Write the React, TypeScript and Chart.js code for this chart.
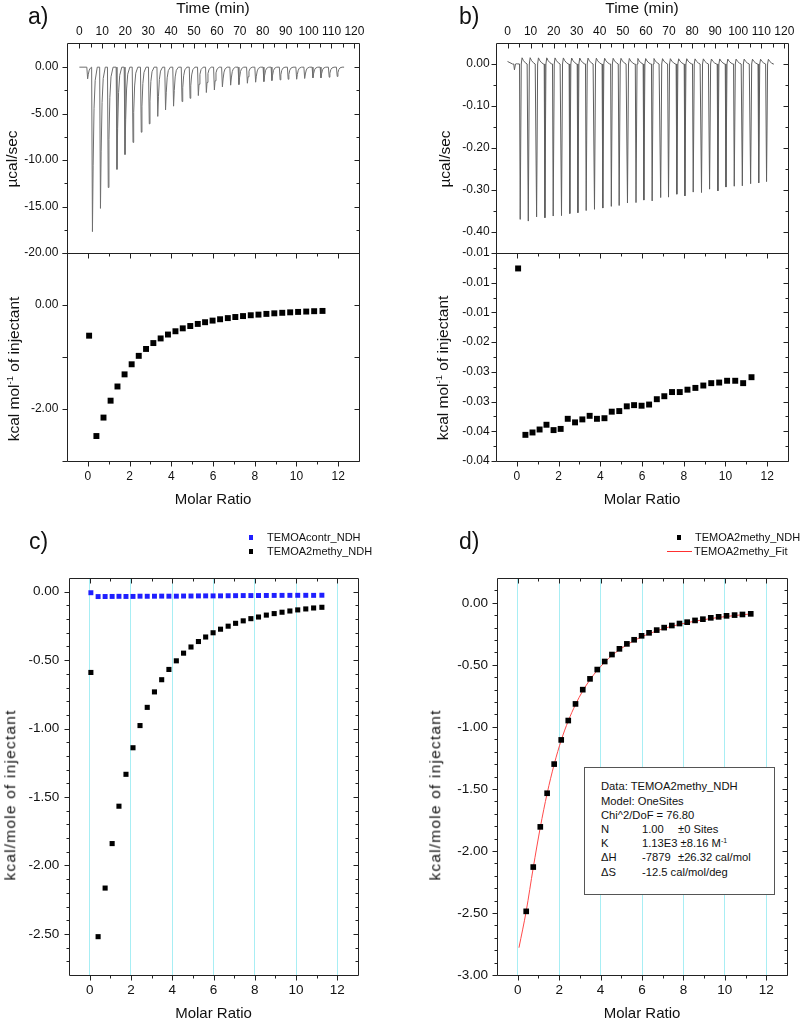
import React, { useEffect, useRef } from 'react';
import { Chart, registerables } from 'chart.js';

Chart.register(...registerables);

const FONT = "'Liberation Sans', Arial, Helvetica, sans-serif";
const INK = '#111';

// ---------------- data ----------------
// Raw thermogram, panel a (TEMOA2methy into NDH): injection peak times (min) and peak minima (µcal/sec)
const A_INJ_TIME = [3.6, 5.7, 9.2, 12.6, 16.4, 19.9, 23.4, 27.0, 30.5, 34.2, 37.6, 41.1, 44.8, 48.3, 51.9, 55.4, 58.9, 62.4, 66.0, 69.6, 73.3, 76.9, 80.5, 84.0, 87.6, 91.1, 94.8, 98.3, 101.9, 105.4, 109.0, 112.5];
const A_PEAK = [-1.26, -17.7, -15.2, -12.95, -11.0, -9.4, -8.1, -7.0, -6.1, -5.3, -4.6, -4.2, -3.7, -3.35, -3.06, -2.73, -2.45, -2.12, -1.94, -1.87, -1.73, -1.62, -1.55, -1.44, -1.37, -1.3, -1.3, -1.22, -1.15, -1.15, -1.08, -1.0];
const A_TRACE_END = 115.5;
// Raw thermogram, panel b (control)
const B_INJ_TIME = [3.0, 5.5, 9.0, 12.6, 16.2, 19.8, 23.4, 27.0, 30.5, 34.1, 37.7, 41.3, 45.0, 48.4, 52.0, 55.7, 59.1, 62.7, 66.4, 69.8, 73.4, 76.9, 80.5, 84.1, 87.6, 91.2, 94.7, 98.3, 101.8, 105.4, 108.9, 112.3];
const B_PEAK = [-0.014, -0.37, -0.374, -0.364, -0.366, -0.362, -0.361, -0.356, -0.354, -0.349, -0.346, -0.343, -0.339, -0.337, -0.331, -0.33, -0.324, -0.326, -0.318, -0.317, -0.31, -0.314, -0.305, -0.306, -0.298, -0.302, -0.293, -0.291, -0.29, -0.285, -0.283, -0.28];
const B_TRACE_START = [[0, 0.006], [2.2, 0]];
const B_TRACE_END = 115;
// spike profile: [minutes after peak, fraction of peak depth]
const A_SPIKE_SHAPE = [[-0.35, 0], [0, 1], [0.3, 0.6], [0.7, 0.25], [1.2, 0.08], [2.1, 0]];
const B_SPIKE_SHAPE = [[-0.3, 0], [0, 1], [0.45, 0], [0.8, -0.04], [1.4, -0.022], [2.2, -0.008], [3.0, 0]];

// Integrated heats
const MOLAR_RATIO = [0.06, 0.41, 0.75, 1.09, 1.42, 1.76, 2.1, 2.44, 2.79, 3.14, 3.49, 3.84, 4.2, 4.55, 4.91, 5.27, 5.62, 5.98, 6.34, 6.71, 7.07, 7.44, 7.81, 8.18, 8.56, 8.94, 9.32, 9.7, 10.08, 10.47, 10.85, 11.25];
const NDH_HEAT = [-0.59, -2.52, -2.165, -1.84, -1.567, -1.334, -1.14, -0.978, -0.845, -0.732, -0.643, -0.568, -0.505, -0.449, -0.404, -0.364, -0.331, -0.3, -0.274, -0.252, -0.231, -0.213, -0.197, -0.185, -0.171, -0.16, -0.15, -0.141, -0.133, -0.126, -0.119, -0.114];
const CONTROL_HEAT = [-0.0076, -0.0356, -0.0352, -0.0347, -0.0339, -0.0348, -0.0346, -0.0329, -0.0335, -0.033, -0.0324, -0.0329, -0.0328, -0.0317, -0.0316, -0.0308, -0.0306, -0.0307, -0.0305, -0.0296, -0.0291, -0.0284, -0.0284, -0.028, -0.0277, -0.0273, -0.0269, -0.0268, -0.0265, -0.0265, -0.0269, -0.0259];
const CORRECTED_HEAT = [-2.487, -2.13, -1.806, -1.535, -1.3, -1.105, -0.949, -0.815, -0.7, -0.613, -0.538, -0.473, -0.417, -0.371, -0.331, -0.298, -0.266, -0.242, -0.22, -0.2, -0.183, -0.167, -0.156, -0.142, -0.132, -0.121, -0.113, -0.105, -0.099, -0.094, -0.089];
const FIT_Y = [-2.78, -2.485, -2.135, -1.81, -1.537, -1.302, -1.108, -0.952, -0.82, -0.71, -0.62, -0.544, -0.479, -0.424, -0.378, -0.338, -0.304, -0.274, -0.249, -0.226, -0.206, -0.189, -0.174, -0.16, -0.148, -0.137, -0.127, -0.118, -0.11, -0.103, -0.096, -0.09];

// Tick values and labels
const TIME_TICKS = [0, 10, 20, 30, 40, 50, 60, 70, 80, 90, 100, 110, 120];
const TIME_LABELS = ['0', '10', '20', '30', '40', '50', '60', '70', '80', '90', '100', '110', '120'];
const TIME_MINOR = [5, 15, 25, 35, 45, 55, 65, 75, 85, 95, 105, 115];
const MOLAR_TICKS = [0, 2, 4, 6, 8, 10, 12];
const MOLAR_LABELS = ['0', '2', '4', '6', '8', '10', '12'];
const MOLAR_MINOR = [1, 3, 5, 7, 9, 11];
const A_TOP_Y_TICKS = [0, -5, -10, -15, -20];
const A_TOP_Y_LABELS = ['0.00', '-5.00', '-10.00', '-15.00', '-20.00'];
const A_TOP_Y_MINOR = [-2.5, -7.5, -12.5, -17.5];
const A_BOT_Y_TICKS = [1, 0, -1, -2, -3];
const A_BOT_Y_LABELS = ['', '0.00', '', '-2.00', ''];
const B_TOP_Y_TICKS = [0, -0.1, -0.2, -0.3, -0.4];
const B_TOP_Y_LABELS = ['0.00', '-0.10', '-0.20', '-0.30', '-0.40'];
const B_TOP_Y_MINOR = [-0.05, -0.15, -0.25, -0.35];
const B_BOT_Y_TICKS = [-0.005, -0.01, -0.015, -0.02, -0.025, -0.03, -0.035, -0.04];
const B_BOT_Y_LABELS = ['-0.01', '-0.01', '-0.01', '-0.02', '-0.03', '-0.03', '-0.04', '-0.04'];
const B_BOT_Y_MINOR = [-0.0075, -0.0125, -0.0175, -0.0225, -0.0275, -0.0325, -0.0375];
const C_Y_TICKS = [0, -0.5, -1, -1.5, -2, -2.5];
const C_Y_LABELS = ['0.00', '-0.50', '-1.00', '-1.50', '-2.00', '-2.50'];
const C_Y_MINOR = [-0.1, -0.2, -0.3, -0.4, -0.6, -0.7, -0.8, -0.9, -1.1, -1.2, -1.3, -1.4, -1.6, -1.7, -1.8, -1.9, -2.1, -2.2, -2.3, -2.4, -2.6, -2.7];
const D_Y_TICKS = [0, -0.5, -1, -1.5, -2, -2.5, -3];
const D_Y_LABELS = ['0.00', '-0.50', '-1.00', '-1.50', '-2.00', '-2.50', '-3.00'];
const D_Y_MINOR = [0.1, -0.1, -0.2, -0.3, -0.4, -0.6, -0.7, -0.8, -0.9, -1.1, -1.2, -1.3, -1.4, -1.6, -1.7, -1.8, -1.9, -2.1, -2.2, -2.3, -2.4, -2.6, -2.7, -2.8, -2.9];

// ---------------- helpers ----------------
function buildTrace(start: number[][], times: number[], peaks: number[], shape: number[][], end: number) {
  const pts: { x: number; y: number }[] = start.map(([x, y]) => ({ x, y }));
  times.forEach((t, i) => {
    const next = i + 1 < times.length ? times[i + 1] + shape[0][0] : Infinity;
    for (const [dt, f] of shape) {
      const x = t + dt;
      if (x < next && x > (pts.length ? pts[pts.length - 1].x : -Infinity)) pts.push({ x, y: peaks[i] * f });
    }
  });
  pts.push({ x: end, y: 0 });
  return pts;
}

const frameTicks = {
  id: 'frameTicks',
  afterDraw(chart: any, _args: any, opts: any) {
    const { ctx, chartArea } = chart;
    const L = Math.round(chartArea.left) + 0.5;
    const R = Math.round(chartArea.right) + 0.5;
    const T = Math.round(chartArea.top) + 0.5;
    const B = Math.round(chartArea.bottom) + 0.5;
    ctx.save();
    ctx.strokeStyle = opts.color || '#222';
    ctx.lineWidth = 1;
    ctx.beginPath();
    ctx.rect(L, T, R - L, B - T);
    ctx.stroke();
    for (const s of opts.sides || []) {
      const sc = chart.scales[s.scale];
      const mark = (v: number, len: number) => {
        const p = Math.round(sc.getPixelForValue(v)) + 0.5;
        ctx.beginPath();
        if (s.side === 'left') { ctx.moveTo(L, p); ctx.lineTo(L + (s.inward ? len : -len), p); }
        else if (s.side === 'right') { ctx.moveTo(R, p); ctx.lineTo(R + (s.inward ? -len : len), p); }
        else if (s.side === 'top') { ctx.moveTo(p, T); ctx.lineTo(p, T + (s.inward ? len : -len)); }
        else { ctx.moveTo(p, B); ctx.lineTo(p, B + (s.inward ? -len : len)); }
        ctx.stroke();
      };
      (s.major || []).forEach((v: number) => mark(v, s.majorLen ?? 5));
      (s.minor || []).forEach((v: number) => mark(v, s.minorLen ?? 3));
    }
    ctx.restore();
  },
};

function axis(pos: string, min: number, max: number, ticks: number[], labels: string[], size: number, fontSize: number, pad: number, gridColor?: string) {
  const horizontal = pos === 'top' || pos === 'bottom';
  return {
    type: 'linear',
    position: pos,
    min,
    max,
    afterBuildTicks: (s: any) => { s.ticks = ticks.map((v) => ({ value: v })); },
    afterFit: (s: any) => { if (horizontal) s.height = size; else s.width = size; },
    ticks: {
      autoSkip: false,
      maxRotation: 0,
      minRotation: 0,
      padding: pad,
      color: INK,
      font: { family: FONT, size: fontSize },
      callback: (_v: any, i: number) => labels[i] ?? '',
    },
    grid: gridColor
      ? { display: true, color: gridColor, lineWidth: 1, drawTicks: false, drawOnChartArea: true }
      : { display: false, drawTicks: false },
    border: { display: false },
  };
}

const squares = (xs: number[], ys: number[], color: string, r: number) => ({
  data: xs.map((x, i) => ({ x, y: ys[i] })),
  pointStyle: 'rect',
  pointRadius: r,
  backgroundColor: color,
  borderWidth: 0,
  showLine: false,
});

const line = (pts: { x: number; y: number }[], color: string, extra: any = {}) => ({
  data: pts,
  showLine: true,
  borderColor: color,
  borderWidth: 1,
  pointRadius: 0,
  tension: 0,
  ...extra,
});

const side = (s: string, scale: string, major: number[], minor: number[], inward: boolean, majorLen = 5, minorLen = 3) => ({ side: s, scale, major, minor, inward, majorLen, minorLen });

const TRACE_A = buildTrace([[0, 0]], A_INJ_TIME, A_PEAK, A_SPIKE_SHAPE, A_TRACE_END);
const TRACE_B = buildTrace(B_TRACE_START, B_INJ_TIME, B_PEAK, B_SPIKE_SHAPE, B_TRACE_END);

type Spec = any;
const SPECS: Spec[] = [
  {
    rect: { x: 0, y: 0, w: 400, h: 280 }, area: { l: 67, t: 43, r: 359, b: 253 },
    x: ['top', -5.4, 122, TIME_TICKS, TIME_LABELS, 12, 4],
    y: ['left', -20, 2.6, A_TOP_Y_TICKS, A_TOP_Y_LABELS, 12, 8.7],
    sides: [
      side('top', 'x', TIME_TICKS, TIME_MINOR, true, 5, 4),
      side('left', 'y', A_TOP_Y_TICKS, A_TOP_Y_MINOR, false),
      side('right', 'y', A_TOP_Y_TICKS, A_TOP_Y_MINOR, true),
    ],
    datasets: [line(TRACE_A, '#6e6e6e')],
  },
  {
    rect: { x: 0, y: 230, w: 400, h: 270 }, area: { l: 67, t: 253, r: 359, b: 461 },
    x: ['bottom', -1, 13, MOLAR_TICKS, MOLAR_LABELS, 12, 8.5],
    y: ['left', -3, 1, A_BOT_Y_TICKS, A_BOT_Y_LABELS, 12, 8.7],
    sides: [
      side('top', 'x', MOLAR_TICKS, MOLAR_MINOR, true),
      side('bottom', 'x', MOLAR_TICKS, MOLAR_MINOR, false),
      side('left', 'y', A_BOT_Y_TICKS, [], false),
      side('right', 'y', A_BOT_Y_TICKS, [], true),
    ],
    datasets: [squares(MOLAR_RATIO, NDH_HEAT, '#000', 4.2)],
  },
  {
    rect: { x: 400, y: 0, w: 400, h: 280 }, area: { l: 496, t: 43, r: 788, b: 253 },
    x: ['top', -5.0, 121.6, TIME_TICKS, TIME_LABELS, 12, 4],
    y: ['left', -0.45, 0.05, B_TOP_Y_TICKS, B_TOP_Y_LABELS, 12, 6.4],
    sides: [
      side('top', 'x', TIME_TICKS, TIME_MINOR, true, 5, 4),
      side('left', 'y', B_TOP_Y_TICKS, B_TOP_Y_MINOR, false),
      side('right', 'y', B_TOP_Y_TICKS, B_TOP_Y_MINOR, true),
    ],
    datasets: [line(TRACE_B, '#5e5e5e')],
  },
  {
    rect: { x: 400, y: 230, w: 400, h: 270 }, area: { l: 496, t: 253, r: 788, b: 461 },
    x: ['bottom', -1, 13, MOLAR_TICKS, MOLAR_LABELS, 12, 8.3],
    y: ['left', -0.04, -0.005, B_BOT_Y_TICKS, B_BOT_Y_LABELS, 12, 6.4],
    sides: [
      side('top', 'x', MOLAR_TICKS, MOLAR_MINOR, true),
      side('bottom', 'x', MOLAR_TICKS, MOLAR_MINOR, false),
      side('left', 'y', B_BOT_Y_TICKS, B_BOT_Y_MINOR, false),
      side('right', 'y', B_BOT_Y_TICKS, B_BOT_Y_MINOR, true),
    ],
    datasets: [squares(MOLAR_RATIO, CONTROL_HEAT, '#000', 4.2)],
  },
  {
    rect: { x: 0, y: 520, w: 400, h: 500 }, area: { l: 69, t: 578, r: 358, b: 975 },
    x: ['bottom', -1, 13, MOLAR_TICKS, MOLAR_LABELS, 13.5, 7, '#a8eef4'],
    y: ['left', -2.8, 0.1, C_Y_TICKS, C_Y_LABELS, 13.5, 9.7],
    sides: [
      side('top', 'x', MOLAR_TICKS, MOLAR_MINOR, true),
      side('bottom', 'x', MOLAR_TICKS, MOLAR_MINOR, false),
      side('left', 'y', C_Y_TICKS, C_Y_MINOR, false),
      side('right', 'y', C_Y_TICKS, C_Y_MINOR, true),
    ],
    datasets: [
      squares(MOLAR_RATIO, CONTROL_HEAT, '#1f1fff', 3.5),
      squares(MOLAR_RATIO, NDH_HEAT, '#000', 3.6),
    ],
  },
  {
    rect: { x: 400, y: 520, w: 400, h: 500 }, area: { l: 497, t: 578, r: 787, b: 975 },
    x: ['bottom', -1, 13, MOLAR_TICKS, MOLAR_LABELS, 13.5, 7, '#a8eef4'],
    y: ['left', -3.0, 0.2, D_Y_TICKS, D_Y_LABELS, 13.5, 9],
    sides: [
      side('top', 'x', MOLAR_TICKS, MOLAR_MINOR, true),
      side('bottom', 'x', MOLAR_TICKS, MOLAR_MINOR, false),
      side('left', 'y', D_Y_TICKS, D_Y_MINOR, false),
      side('right', 'y', D_Y_TICKS, D_Y_MINOR, true),
    ],
    datasets: [
      squares(MOLAR_RATIO.slice(1), CORRECTED_HEAT, '#000', 4),
      line(MOLAR_RATIO.map((x, i) => ({ x, y: FIT_Y[i] })), '#ff4a4a', { tension: 0.35, cubicInterpolationMode: 'monotone' }),
    ],
  },
];

function makeChart(canvas: HTMLCanvasElement, s: Spec) {
  const { rect, area } = s;
  const [xp, xmin, xmax, xt, xl, xfs, xpad, xgrid] = s.x;
  const [yp, ymin, ymax, yt, yl, yfs, ypad] = s.y;
  const yW = area.l - rect.x;
  const padRight = rect.x + rect.w - area.r;
  let xH: number, padTop: number, padBottom: number;
  if (xp === 'top') { xH = area.t - rect.y; padTop = 0; padBottom = rect.y + rect.h - area.b; }
  else { xH = rect.y + rect.h - area.b; padTop = area.t - rect.y; padBottom = 0; }
  return new Chart(canvas, {
    type: 'scatter',
    data: { datasets: s.datasets },
    options: {
      responsive: false,
      maintainAspectRatio: false,
      animation: false,
      events: [],
      layout: { padding: { left: 0, right: padRight, top: padTop, bottom: padBottom } },
      plugins: {
        legend: { display: false },
        tooltip: { enabled: false },
        frameTicks: { color: '#222', sides: s.sides },
      } as any,
      scales: {
        x: axis(xp, xmin, xmax, xt, xl, xH, xfs, xpad, xgrid) as any,
        y: axis(yp, ymin, ymax, yt, yl, yW, yfs, ypad) as any,
      },
    },
    plugins: [frameTicks as any],
  } as any);
}

// ---------------- text helpers ----------------
const Txt = ({ x, y, size, mid, children }: any) => (
  <div style={{
    position: 'absolute', left: x, top: y - 0.8465 * size, fontSize: size, lineHeight: 1,
    whiteSpace: 'nowrap', transform: mid ? 'translateX(-50%)' : undefined,
  }}>{children}</div>
);

const VTxt = ({ cx, cy, size, spacing = 0, children }: any) => (
  <div style={{
    position: 'absolute', left: cx, top: cy, fontSize: size, lineHeight: 1, whiteSpace: 'nowrap',
    letterSpacing: spacing, transform: 'translate(-50%, -50%) rotate(-90deg)',
  }}>{children}</div>
);

const Sup = ({ children }: any) => (
  <span style={{ fontSize: '0.62em', position: 'relative', top: '-0.6em' }}>{children}</span>
);

const Square = ({ cx, cy, size, color }: any) => (
  <div style={{ position: 'absolute', left: cx - size / 2, top: cy - size / 2, width: size, height: size, background: color }} />
);

export default function App() {
  const refs = useRef<(HTMLCanvasElement | null)[]>([]);
  useEffect(() => {
    const charts = SPECS.map((s, i) => makeChart(refs.current[i] as HTMLCanvasElement, s));
    return () => charts.forEach((c) => c.destroy());
  }, []);

  const boxLine = 14.2;
  const boxBase = 790.8;
  const bl = (i: number) => boxBase + boxLine * i;
  const bs = 11.2;

  return (
    <div style={{ position: 'absolute', left: 0, top: 0, width: 800, height: 1020, background: '#fff', overflow: 'hidden', fontFamily: FONT, color: INK }}>
      {SPECS.map((s, i) => (
        <canvas key={i} ref={(el) => { refs.current[i] = el; }} width={s.rect.w} height={s.rect.h}
          style={{ position: 'absolute', left: s.rect.x, top: s.rect.y, width: s.rect.w, height: s.rect.h }} />
      ))}

      {/* panel letters */}
      <Txt x={28} y={24.5} size={23}>a)</Txt>
      <Txt x={459} y={24.5} size={23}>b)</Txt>
      <Txt x={29} y={549.5} size={23}>c)</Txt>
      <Txt x={459} y={549.5} size={23}>d)</Txt>

      {/* axis titles a / b */}
      <Txt x={213} y={12.7} size={15.5} mid>Time (min)</Txt>
      <Txt x={642} y={12.7} size={15.5} mid>Time (min)</Txt>
      <VTxt cx={12} cy={159} size={15.5}>µcal/sec</VTxt>
      <VTxt cx={445} cy={159} size={15.5}>µcal/sec</VTxt>
      <VTxt cx={14} cy={369} size={15.5}>kcal mol<Sup>-1</Sup> of injectant</VTxt>
      <VTxt cx={443} cy={368} size={15.5}>kcal mol<Sup>-1</Sup> of injectant</VTxt>
      <Txt x={213} y={504} size={15} mid>Molar Ratio</Txt>
      <Txt x={642} y={504} size={15} mid>Molar Ratio</Txt>

      {/* axis titles c / d */}
      <VTxt cx={10} cy={795} size={15.5} spacing={1.2}>kcal/mole of injectant</VTxt>
      <VTxt cx={435} cy={795} size={15.5} spacing={1.2}>kcal/mole of injectant</VTxt>
      <Txt x={213.5} y={1017.5} size={15} mid>Molar Ratio</Txt>
      <Txt x={642} y={1017.5} size={15} mid>Molar Ratio</Txt>

      {/* legend c */}
      <Square cx={251} cy={537.7} size={4.5} color="#1f1fff" />
      <Txt x={267} y={541.6} size={11}>TEMOAcontr_NDH</Txt>
      <Square cx={251} cy={551.7} size={4.5} color="#000" />
      <Txt x={267} y={555.6} size={11}>TEMOA2methy_NDH</Txt>

      {/* legend d */}
      <Square cx={679} cy={537.7} size={4.5} color="#000" />
      <Txt x={695} y={541.6} size={11}>TEMOA2methy_NDH</Txt>
      <div style={{ position: 'absolute', left: 667, top: 551, width: 25, height: 1, background: '#ff3030' }} />
      <Txt x={694} y={555.6} size={11}>TEMOA2methy_Fit</Txt>

      {/* fit results box */}
      <div style={{ position: 'absolute', left: 584, top: 767, width: 189, height: 126, border: '1px solid #555', background: '#fff' }} />
      <Txt x={601} y={bl(0)} size={bs}>Data: TEMOA2methy_NDH</Txt>
      <Txt x={601} y={bl(1)} size={bs}>Model: OneSites</Txt>
      <Txt x={601} y={bl(2)} size={bs}>Chi^2/DoF = 76.80</Txt>
      <Txt x={601} y={bl(3)} size={bs}>N</Txt>
      <Txt x={642} y={bl(3)} size={bs}>1.00</Txt>
      <Txt x={678} y={bl(3)} size={bs}>±0 Sites</Txt>
      <Txt x={601} y={bl(4)} size={bs}>K</Txt>
      <Txt x={642} y={bl(4)} size={bs}>1.13E3 ±8.16 M<Sup>-1</Sup></Txt>
      <Txt x={601} y={bl(5)} size={bs}>ΔH</Txt>
      <Txt x={642} y={bl(5)} size={bs}>-7879</Txt>
      <Txt x={678} y={bl(5)} size={bs}>±26.32 cal/mol</Txt>
      <Txt x={601} y={bl(6)} size={bs}>ΔS</Txt>
      <Txt x={642} y={bl(6)} size={bs}>-12.5 cal/mol/deg</Txt>
    </div>
  );
}
